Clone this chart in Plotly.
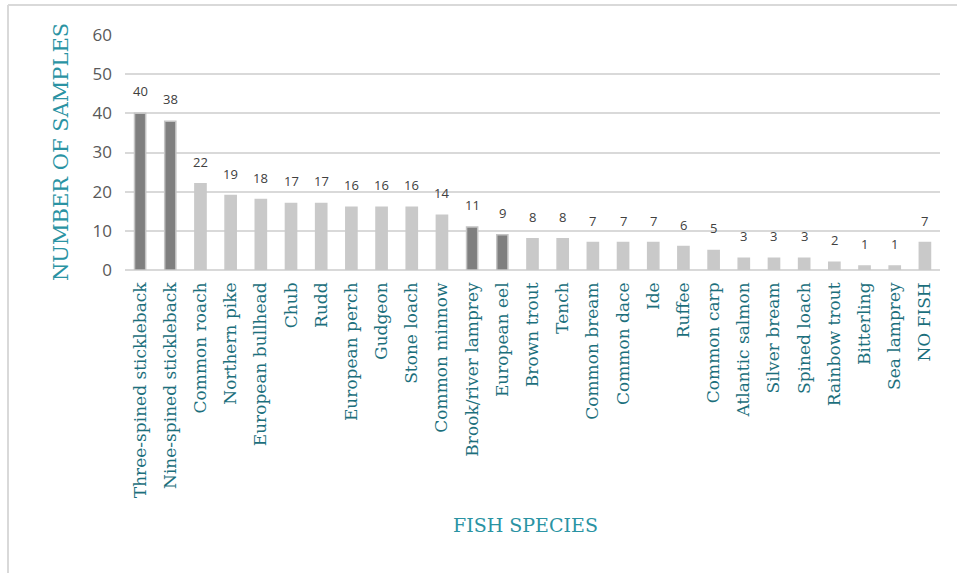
import plotly.graph_objects as go

species = [
    "Three-spined stickleback", "Nine-spined stickleback", "Common roach",
    "Northern pike", "European bullhead", "Chub", "Rudd", "European perch",
    "Gudgeon", "Stone loach", "Common minnow", "Brook/river lamprey",
    "European eel", "Brown trout", "Tench", "Common bream", "Common dace",
    "Ide", "Ruffee", "Common carp", "Atlantic salmon", "Silver bream",
    "Spined loach", "Rainbow trout", "Bitterling", "Sea lamprey", "NO FISH",
]
samples = [40, 38, 22, 19, 18, 17, 17, 16, 16, 16, 14, 11, 9, 8, 8, 7, 7, 7,
           6, 5, 3, 3, 3, 2, 1, 1, 7]
highlighted = ["Three-spined stickleback", "Nine-spined stickleback",
               "Brook/river lamprey", "European eel"]
y_ticks = [0, 10, 20, 30, 40, 50, 60]

DARK = "#7f7f7f"
LIGHT = "#c9c9c9"
TEAL_DARK = "#1c6f7c"
TEAL = "#2a93a3"
SERIF = "DejaVu Serif, serif"
SANS = "Open Sans, Liberation Sans, sans-serif"

fill = [DARK if s in highlighted else LIGHT for s in species]
edge = ["#c4c4c4" if s in highlighted else LIGHT for s in species]

fig = go.Figure(
    go.Bar(
        x=species,
        y=samples,
        width=0.37,
        marker=dict(color=fill, line=dict(color=edge, width=1.5)),
        hoverinfo="x+y",
    )
)

# Value labels above each bar
for s, v in zip(species, samples):
    fig.add_annotation(x=s, y=v, text=str(v), showarrow=False,
                       xanchor="center", yanchor="bottom", yshift=11,
                       font=dict(family=SANS, size=13, color="#404040"))

W, H = 957, 573
L, R, T, B = 125, 17, 35, 303

fig.update_layout(
    width=W,
    height=H,
    margin=dict(l=L, r=R, t=T, b=B, pad=0),
    paper_bgcolor="white",
    plot_bgcolor="white",
    showlegend=False,
    bargap=0.6,
    xaxis=dict(
        type="category",
        tickangle=-90,
        tickfont=dict(family=SERIF, size=17, color=TEAL_DARK),
        showgrid=False,
        showline=False,
        ticks="",
        ticklabelstandoff=8,
    ),
    yaxis=dict(
        range=[0, 60],
        tickvals=y_ticks,
        tickfont=dict(family=SANS, size=17, color="#595959"),
        showgrid=True,
        gridcolor="#d9d9d9",
        gridwidth=2,
        zeroline=True,
        zerolinecolor="#d9d9d9",
        zerolinewidth=2,
        showline=False,
        ticks="",
        ticklabelstandoff=12,
    ),
)

pw = W - L - R
ph = H - T - B


def px_x(v):
    return (v - L) / pw


def px_y(v):
    return (H - B - v) / ph


# Chart frame: left and top edges
fig.add_shape(type="line", xref="paper", yref="paper",
              x0=px_x(8), x1=px_x(8), y0=px_y(5), y1=px_y(H + 10),
              line=dict(color="#d9d9d9", width=2))
fig.add_shape(type="line", xref="paper", yref="paper",
              x0=px_x(8), x1=px_x(W + 10), y0=px_y(5), y1=px_y(5),
              line=dict(color="#d9d9d9", width=2))

# Axis titles
fig.add_annotation(text="NUMBER OF SAMPLES", xref="paper", yref="paper",
                   x=px_x(61), y=px_y(152), textangle=-90, showarrow=False,
                   xanchor="center", yanchor="middle",
                   font=dict(family=SERIF, size=21, color=TEAL))
fig.add_annotation(text="FISH SPECIES", xref="paper", yref="paper",
                   x=px_x(525), y=px_y(525), showarrow=False,
                   xanchor="center", yanchor="middle",
                   font=dict(family=SERIF, size=19, color=TEAL))

fig.write_html("out.html")
